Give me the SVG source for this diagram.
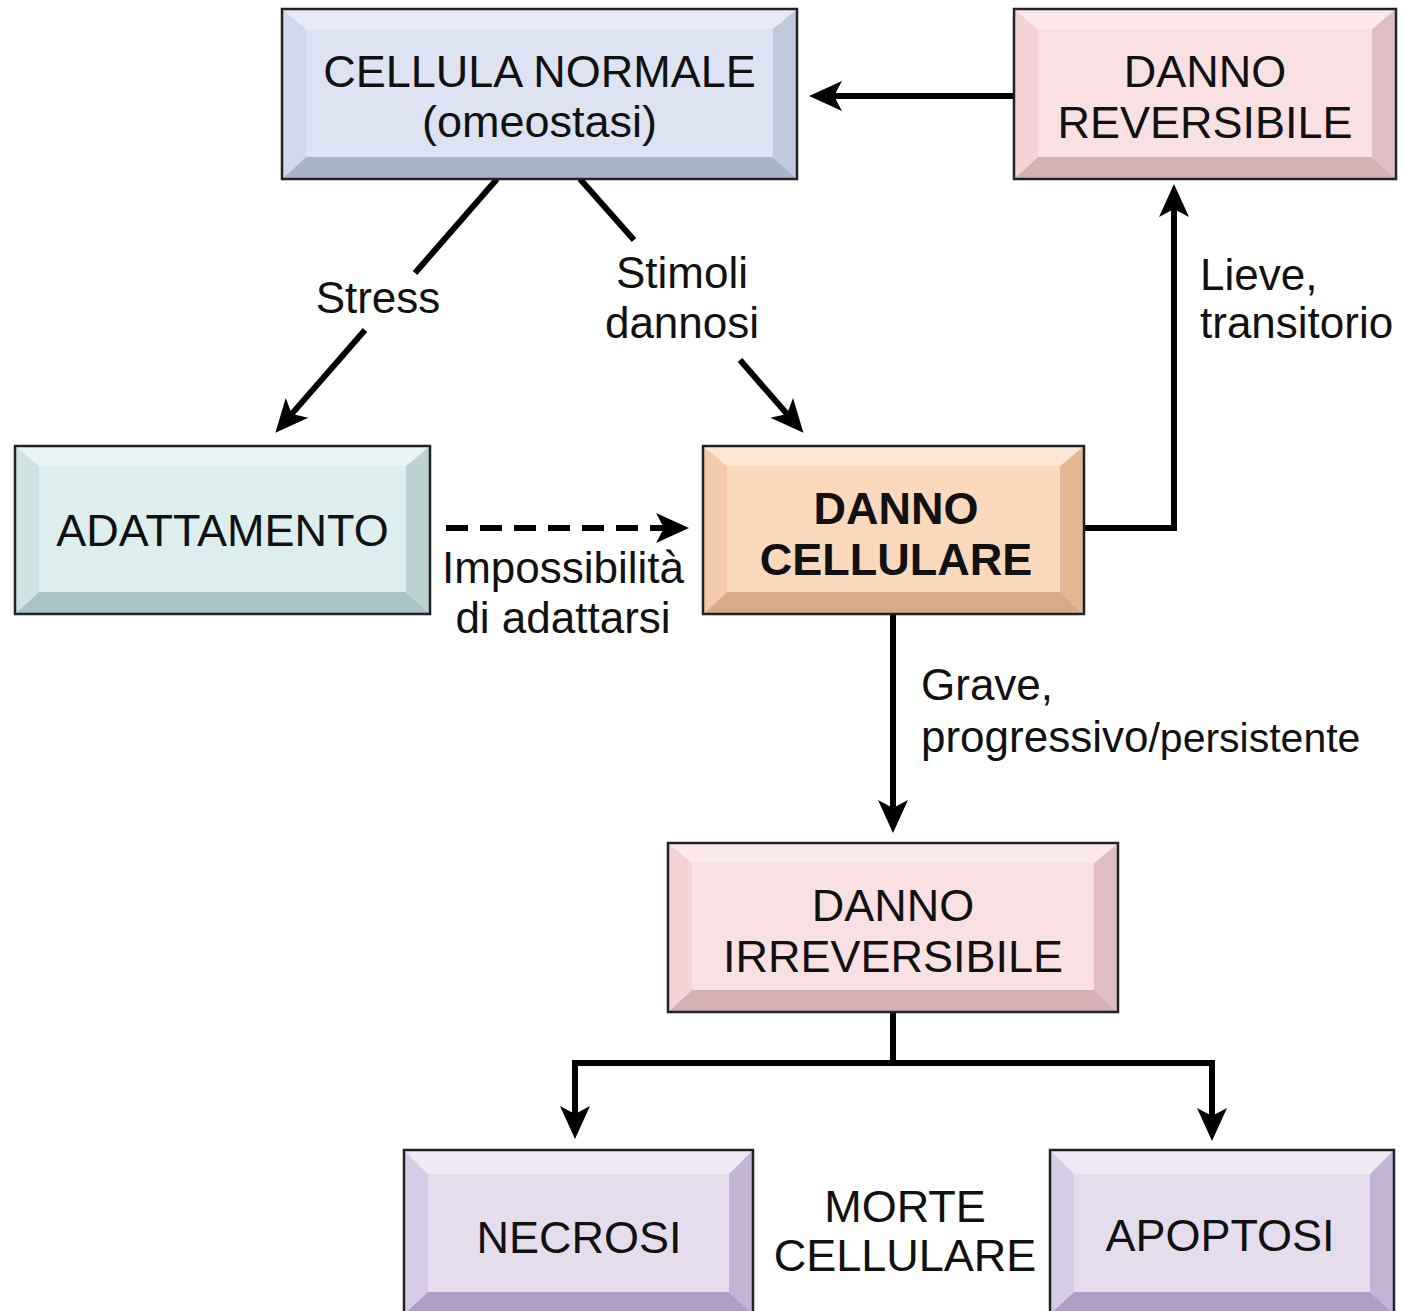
<svg xmlns="http://www.w3.org/2000/svg" width="1403" height="1311" viewBox="0 0 1403 1311">
<defs>
<style>
.t{font-family:"Liberation Sans",Arial,sans-serif;font-size:45px;fill:#111;text-anchor:middle}
.b{font-weight:bold}
.l{font-family:"Liberation Sans",Arial,sans-serif;font-size:44px;fill:#111}
.c{text-anchor:middle}
.ol{fill:none;stroke:#222;stroke-width:2.5}
.ln{fill:none;stroke:#000;stroke-width:6}
.blue .tp{fill:#e7ebf7}.blue .lf{fill:#d2d9ed}.blue .rt{fill:#bfc8dd}.blue .bt{fill:#a9b4cc}.blue .fc{fill:#dde3f3}
.pink .tp{fill:#fbe9eb}.pink .lf{fill:#f2d4d7}.pink .rt{fill:#dfbfc3}.pink .bt{fill:#d2b0b4}.pink .fc{fill:#f9e0e3}
.teal .tp{fill:#e8f4f4}.teal .lf{fill:#cfe3e4}.teal .rt{fill:#bcd2d3}.teal .bt{fill:#a9c2c3}.teal .fc{fill:#dceeee}
.peach .tp{fill:#fde7d4}.peach .lf{fill:#f3cbac}.peach .rt{fill:#e2b794}.peach .bt{fill:#d9aa89}.peach .fc{fill:#fbd9bd}
.lav .tp{fill:#efe9f5}.lav .lf{fill:#d6cce5}.lav .rt{fill:#c1b3d3}.lav .bt{fill:#ad9fc3}.lav .fc{fill:#e5dcee}
</style>
<marker id="ah" markerUnits="userSpaceOnUse" markerWidth="40" markerHeight="40" viewBox="-2 -16 40 32" refX="8" refY="0" orient="auto">
<path d="M0,-15 L33,0 L0,15 L8,0 Z" fill="#000"/>
</marker>
</defs>

<g id="connectors">
<line class="ln" x1="1014" y1="96" x2="834" y2="96" marker-end="url(#ah)"/>
<line class="ln" x1="497" y1="179" x2="415" y2="273"/>
<line class="ln" x1="365" y1="330" x2="291.8" y2="413.9" marker-end="url(#ah)"/>
<line class="ln" x1="580" y1="179" x2="634" y2="240"/>
<line class="ln" x1="740" y1="360" x2="787" y2="414" marker-end="url(#ah)"/>
<line class="ln" x1="446" y1="528" x2="664" y2="528" stroke-dasharray="22,12" marker-end="url(#ah)"/>
<polyline class="ln" points="1084,528 1174,528 1174,209" marker-end="url(#ah)"/>
<line class="ln" x1="893" y1="614" x2="893" y2="808" marker-end="url(#ah)"/>
<line class="ln" x1="893" y1="1012" x2="893" y2="1063"/>
<polyline class="ln" points="575,1114 575,1063 1212,1063 1212,1116"/>
<line class="ln" x1="575" y1="1090" x2="575" y2="1114" marker-end="url(#ah)"/>
<line class="ln" x1="1212" y1="1090" x2="1212" y2="1116" marker-end="url(#ah)"/>
</g>

<g id="labels">
<text class="l c" x="378" y="313">Stress</text>
<text class="l c" x="682" y="288">Stimoli</text>
<text class="l c" x="682" y="338">dannosi</text>
<text class="l" x="1200" y="290">Lieve,</text>
<text class="l" x="1200" y="338">transitorio</text>
<text class="l c" x="563" y="583">Impossibilità</text>
<text class="l c" x="563" y="633">di adattarsi</text>
<text class="l" x="921" y="700">Grave,</text>
<text class="l" x="921" y="752">progressivo<tspan font-size="41">/persistente</tspan></text>
<text class="t" x="905" y="1222">MORTE</text>
<text class="t" x="905" y="1271">CELLULARE</text>
</g>

<g id="n-normale" class="blue" transform="translate(282,9)">
<polygon class="tp" points="0,0 515,0 491,20 24,20"/>
<polygon class="lf" points="0,0 24,20 24,148 0,170"/>
<polygon class="rt" points="515,0 515,170 491,148 491,20"/>
<polygon class="bt" points="0,170 24,148 491,148 515,170"/>
<rect class="fc" x="24" y="20" width="467" height="128"/>
<rect class="ol" x="0" y="0" width="515" height="170"/>
<text class="t" x="257.5" y="78">CELLULA NORMALE</text>
<text class="t" x="257.5" y="128">(omeostasi)</text>
</g>

<g id="n-reversibile" class="pink" transform="translate(1014,9)">
<polygon class="tp" points="0,0 382,0 358,20 24,20"/>
<polygon class="lf" points="0,0 24,20 24,148 0,170"/>
<polygon class="rt" points="382,0 382,170 358,148 358,20"/>
<polygon class="bt" points="0,170 24,148 358,148 382,170"/>
<rect class="fc" x="24" y="20" width="334" height="128"/>
<rect class="ol" x="0" y="0" width="382" height="170"/>
<text class="t" x="191" y="78">DANNO</text>
<text class="t" x="191" y="129">REVERSIBILE</text>
</g>

<g id="n-adattamento" class="teal" transform="translate(15,446)">
<polygon class="tp" points="0,0 415,0 391,20 24,20"/>
<polygon class="lf" points="0,0 24,20 24,146 0,168"/>
<polygon class="rt" points="415,0 415,168 391,146 391,20"/>
<polygon class="bt" points="0,168 24,146 391,146 415,168"/>
<rect class="fc" x="24" y="20" width="367" height="126"/>
<rect class="ol" x="0" y="0" width="415" height="168"/>
<text class="t" x="207.5" y="100">ADATTAMENTO</text>
</g>

<g id="n-danno-cellulare" class="peach" transform="translate(703,446)">
<polygon class="tp" points="0,0 381,0 357,20 24,20"/>
<polygon class="lf" points="0,0 24,20 24,146 0,168"/>
<polygon class="rt" points="381,0 381,168 357,146 357,20"/>
<polygon class="bt" points="0,168 24,146 357,146 381,168"/>
<rect class="fc" x="24" y="20" width="333" height="126"/>
<rect class="ol" x="0" y="0" width="381" height="168"/>
<text class="t b" x="193" y="78">DANNO</text>
<text class="t b" x="193" y="129">CELLULARE</text>
</g>

<g id="n-irreversibile" class="pink" transform="translate(668,843)">
<polygon class="tp" points="0,0 450,0 426,20 24,20"/>
<polygon class="lf" points="0,0 24,20 24,147 0,169"/>
<polygon class="rt" points="450,0 450,169 426,147 426,20"/>
<polygon class="bt" points="0,169 24,147 426,147 450,169"/>
<rect class="fc" x="24" y="20" width="402" height="127"/>
<rect class="ol" x="0" y="0" width="450" height="169"/>
<text class="t" x="225" y="78">DANNO</text>
<text class="t" x="225" y="129">IRREVERSIBILE</text>
</g>

<g id="n-necrosi" class="lav" transform="translate(404,1150)">
<polygon class="tp" points="0,0 349,0 325,24 24,24"/>
<polygon class="lf" points="0,0 24,24 24,142 0,164"/>
<polygon class="rt" points="349,0 349,164 325,142 325,24"/>
<polygon class="bt" points="0,164 24,142 325,142 349,164"/>
<rect class="fc" x="24" y="24" width="301" height="118"/>
<rect class="ol" x="0" y="0" width="349" height="164"/>
<text class="t" x="175" y="103">NECROSI</text>
</g>

<g id="n-apoptosi" class="lav" transform="translate(1050,1150)">
<polygon class="tp" points="0,0 344,0 320,24 24,24"/>
<polygon class="lf" points="0,0 24,24 24,142 0,164"/>
<polygon class="rt" points="344,0 344,164 320,142 320,24"/>
<polygon class="bt" points="0,164 24,142 320,142 344,164"/>
<rect class="fc" x="24" y="24" width="296" height="118"/>
<rect class="ol" x="0" y="0" width="344" height="164"/>
<text class="t" x="170" y="101">APOPTOSI</text>
</g>
</svg>
